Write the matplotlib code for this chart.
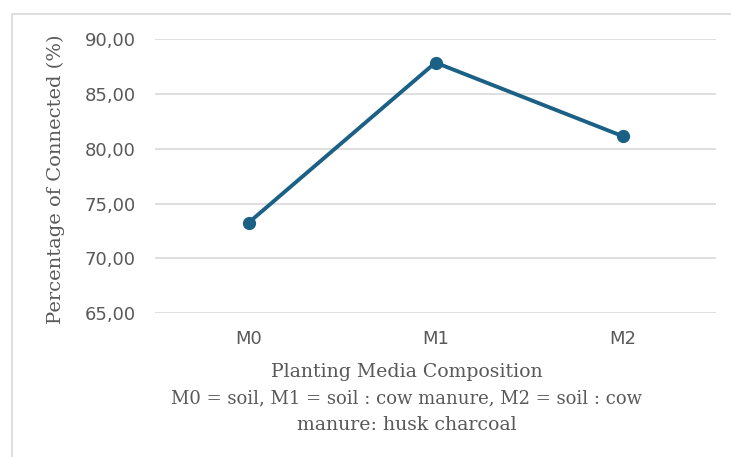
import matplotlib
matplotlib.use("Agg")
from matplotlib import pyplot as plt
from matplotlib.patches import Rectangle
from matplotlib.ticker import FuncFormatter

media = ["M0", "M1", "M2"]
connected_pct = [73.25, 87.85, 81.15]
y_ticks = [65, 70, 75, 80, 85, 90]

line_color = "#1b6185"
grid_color = "#d9d9d9"
text_color = "#595959"
serif = "DejaVu Serif"

fig = plt.figure(figsize=(7.31, 4.57), dpi=100)
ax = fig.add_axes([155 / 731, 1 - 313.3 / 457, (716 - 155) / 731, (313.3 - 39) / 457])

x = range(len(media))
ax.plot(x, connected_pct, color=line_color, lw=2.8, marker="o", ms=8.5,
        solid_capstyle="round", zorder=3)

ax.set_xlim(-0.5, len(media) - 0.5)
ax.set_ylim(65, 90)
ax.set_yticks(y_ticks)
ax.yaxis.set_major_formatter(FuncFormatter(lambda v, _: f"{v:.2f}".replace(".", ",")))
ax.set_xticks(list(x))
ax.set_xticklabels(media)
ax.grid(axis="y", color=grid_color, lw=1.2)
ax.set_axisbelow(True)
for s in ax.spines.values():
    s.set_visible(False)
ax.tick_params(length=0, labelsize=13, labelcolor=text_color)
ax.tick_params(axis="y", pad=14)
ax.tick_params(axis="x", pad=12)

fig.text(56 / 731, 1 - 179 / 457, "Percentage of Connected (%)", family=serif,
         fontsize=14, color=text_color, rotation=90, ha="center", va="center")

fig.text(407 / 731, 1 - 372 / 457, "Planting Media Composition",
         family=serif, fontsize=13.6, color=text_color, ha="center", va="center")
fig.text(407 / 731, 1 - 398 / 457, "M0 = soil, M1 = soil : cow manure, M2 = soil : cow",
         family=serif, fontsize=13, color=text_color, ha="center", va="center")
fig.text(407 / 731, 1 - 425 / 457, "manure: husk charcoal",
         family=serif, fontsize=13.6, color=text_color, ha="center", va="center")

# chart frame, running off the right and bottom edges
fig.patches.append(Rectangle((12 / 731, -0.1), 1.2, 1.1 - 14 / 457,
                             transform=fig.transFigure, fill=False,
                             edgecolor=grid_color, lw=1.2))

fig.savefig("out.png", dpi=100)
